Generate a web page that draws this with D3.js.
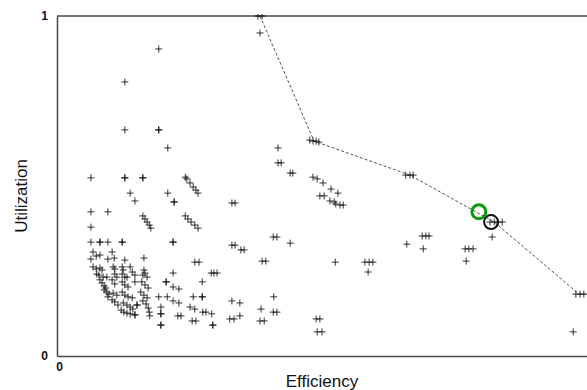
<!DOCTYPE html>
<html>
<head>
<meta charset="utf-8">
<script src="https://cdn.jsdelivr.net/npm/d3@7"></script>
<style>
  html, body { margin: 0; padding: 0; background: #fff; }
  svg { display: block; }
  text { font-family: "Liberation Sans", Arial, sans-serif; }
</style>
</head>
<body>
<svg id="chart" width="587" height="390"></svg>
<script>
// ---- data ----
const xTicks = [0];
const yTicks = [0, 1];
const xTitle = "Efficiency";
const yTitle = "Utilization";

// Pareto-front configurations (efficiency, utilization)
const frontPoints = [
  [0.379,1.0],[0.387,1.0],
  [0.477,0.635],[0.483,0.632],[0.489,0.632],[0.494,0.629],
  [0.658,0.532],[0.666,0.532],[0.672,0.532],
  [0.817,0.394],[0.825,0.394],[0.832,0.394],[0.840,0.394],
  [0.979,0.182],[0.987,0.182],[0.994,0.182]
];
// dashed front line vertices
const frontLine = [
  [0.383,1.0],[0.485,0.632],[0.666,0.532],[0.825,0.394],[0.985,0.182],[1.0,0.182]
];
// all other configurations
const otherPoints = [
  [0.383,0.950],
  [0.192,0.903],[0.128,0.806],[0.128,0.665],[0.192,0.665],[0.192,0.665],[0.209,0.612],[0.417,0.612],
  [0.064,0.524],[0.128,0.524],[0.128,0.524],[0.162,0.524],[0.162,0.524],
  [0.242,0.526],[0.245,0.521],[0.251,0.509],[0.257,0.497],[0.262,0.488],[0.266,0.479],
  [0.138,0.479],[0.147,0.456],[0.209,0.479],[0.221,0.453],[0.221,0.453],
  [0.330,0.450],[0.336,0.450],
  [0.064,0.424],[0.096,0.424],
  [0.162,0.412],[0.166,0.403],[0.170,0.394],[0.174,0.385],[0.177,0.376],
  [0.242,0.412],[0.247,0.403],[0.253,0.394],[0.260,0.385],[0.266,0.376],
  [0.064,0.379],
  [0.064,0.335],[0.081,0.335],[0.081,0.335],[0.096,0.335],[0.123,0.335],[0.123,0.335],[0.219,0.335],[0.219,0.335],
  [0.330,0.326],[0.336,0.326],[0.347,0.312],[0.353,0.312],
  [0.417,0.568],[0.423,0.568],[0.440,0.538],[0.445,0.538],
  [0.483,0.526],[0.491,0.521],[0.502,0.509],[0.517,0.491],[0.530,0.479],
  [0.496,0.471],[0.504,0.471],[0.515,0.456],[0.523,0.453],[0.526,0.447],[0.534,0.444],[0.540,0.444],
  [0.408,0.350],[0.415,0.350],[0.440,0.332],
  [0.387,0.279],[0.394,0.279],
  [0.525,0.276],[0.581,0.276],[0.589,0.276],[0.596,0.276],[0.587,0.247],
  [0.660,0.329],[0.689,0.353],[0.696,0.353],[0.702,0.353],[0.691,0.315],
  [0.770,0.315],[0.777,0.315],[0.785,0.315],[0.772,0.279],[0.821,0.350],
  [0.974,0.071],
  [0.330,0.162],[0.345,0.156],[0.409,0.174],[0.385,0.138],[0.408,0.129],[0.415,0.129],
  [0.326,0.109],[0.334,0.109],[0.345,0.118],[0.383,0.103],[0.391,0.103],
  [0.489,0.109],[0.496,0.109],[0.491,0.071],[0.500,0.071],
  [0.196,0.091],[0.196,0.091],[0.228,0.118],[0.234,0.118],[0.255,0.103],[0.262,0.103],[0.294,0.091],[0.294,0.091],
  [0.275,0.129],[0.281,0.129],[0.292,0.124],[0.251,0.144],[0.260,0.138],
  [0.219,0.162],[0.230,0.156],[0.192,0.174],[0.208,0.174],[0.257,0.174],[0.274,0.174],[0.274,0.174],
  [0.206,0.218],[0.206,0.218],[0.274,0.218],[0.219,0.203],[0.230,0.197],
  [0.164,0.288],[0.166,0.244],[0.219,0.244],[0.291,0.244],[0.296,0.244],[0.302,0.244],
  [0.260,0.276],[0.268,0.276],
  [0.196,0.144],[0.196,0.124],[0.196,0.124],
  [0.068,0.306],[0.104,0.306],
  [0.064,0.285],[0.074,0.294],[0.081,0.297],[0.096,0.285],[0.108,0.288],[0.128,0.282],
  [0.068,0.262],[0.074,0.256],[0.081,0.259],[0.085,0.253],[0.106,0.262],[0.109,0.256],[0.123,0.262],[0.125,0.253],[0.138,0.262],[0.164,0.253],
  [0.075,0.241],[0.079,0.238],[0.087,0.232],[0.094,0.232],[0.109,0.241],[0.113,0.232],[0.123,0.241],[0.128,0.232],[0.132,0.232],[0.142,0.247],[0.147,0.238],[0.162,0.238],[0.170,0.232],
  [0.081,0.224],[0.085,0.215],[0.089,0.206],[0.092,0.200],[0.104,0.224],[0.109,0.212],[0.123,0.218],[0.128,0.209],[0.134,0.203],[0.147,0.218],[0.160,0.218],[0.166,0.209],[0.172,0.200],
  [0.089,0.194],[0.094,0.188],[0.098,0.182],[0.106,0.185],[0.113,0.179],[0.123,0.188],[0.128,0.179],[0.134,0.174],[0.142,0.171],[0.158,0.188],[0.164,0.179],[0.170,0.171],
  [0.096,0.174],[0.104,0.165],[0.109,0.159],[0.115,0.150],[0.125,0.156],[0.132,0.150],[0.138,0.144],[0.143,0.138],[0.151,0.150],[0.151,0.150],[0.162,0.162],[0.168,0.153],[0.172,0.141],
  [0.121,0.135],[0.126,0.129],[0.132,0.126],[0.138,0.124],[0.147,0.121],[0.147,0.121],[0.174,0.129],[0.175,0.118]
];
// highlighted configurations
const highlightGreen = [[0.796, 0.424]];
const highlightBlack = [[0.819, 0.394]];

// ---- layout ----
const svg = d3.select("#chart");
const plot = { left: 57, right: 587, top: 16, bottom: 356 };
const x = d3.scaleLinear().domain([0, 1]).range([plot.left, plot.right]);
const y = d3.scaleLinear().domain([0, 1]).range([plot.bottom, plot.top]);

svg.append("defs").append("clipPath").attr("id", "clip")
  .append("rect").attr("x", plot.left).attr("y", plot.top - 2)
  .attr("width", plot.right - plot.left + 5).attr("height", plot.bottom - plot.top + 4);

// frame: top line
svg.append("line")
  .attr("x1", x(0)).attr("x2", x(1)).attr("y1", y(1)).attr("y2", y(1))
  .attr("stroke", "#444").attr("stroke-width", 1.5);

// axes
const yAxis = svg.append("g").attr("transform", `translate(${plot.left},0)`)
  .call(d3.axisLeft(y).tickValues(yTicks).tickSize(0).tickPadding(9).tickFormat(d3.format("d")));
const xAxis = svg.append("g").attr("transform", `translate(0,${plot.bottom})`)
  .call(d3.axisBottom(x).tickValues(xTicks).tickSize(0).tickPadding(6).tickFormat(d3.format("d")));
[yAxis, xAxis].forEach(g => {
  g.select(".domain").attr("stroke", "#444").attr("stroke-width", 1.5);
  g.selectAll("text").attr("font-size", 12).attr("font-weight", "bold")
    .attr("fill", "#111").attr("font-family", "Liberation Sans, Arial, sans-serif");
});
xAxis.selectAll("text").attr("dx", 2);

// titles
svg.append("text").attr("x", 322).attr("y", 387).attr("text-anchor", "middle")
  .attr("font-size", 17).attr("fill", "#111").text(xTitle);
svg.append("text").attr("transform", `translate(27,${(plot.top + plot.bottom) / 2 + 10}) rotate(-90)`)
  .attr("text-anchor", "middle").attr("font-size", 17).attr("fill", "#111").text(yTitle);

const g = svg.append("g").attr("clip-path", "url(#clip)");

// dashed front
g.append("path").datum(frontLine)
  .attr("d", d3.line().x(d => x(d[0])).y(d => y(d[1])))
  .attr("fill", "none").attr("stroke", "#555").attr("stroke-width", 1)
  .attr("stroke-dasharray", "3,2");

// plus markers
const plus = "M-3.5,0H3.5M0,-3.5V3.5";
g.selectAll("path.pt").data(otherPoints.concat(frontPoints)).join("path")
  .attr("class", "pt")
  .attr("transform", d => `translate(${x(d[0])},${y(d[1])})`)
  .attr("d", plus).attr("stroke", "#111").attr("stroke-opacity", 0.85)
  .attr("stroke-width", 1).attr("fill", "none");

// highlight circles
g.selectAll("circle.green").data(highlightGreen).join("circle")
  .attr("class", "green").attr("cx", d => x(d[0])).attr("cy", d => y(d[1])).attr("r", 7)
  .attr("fill", "none").attr("stroke", "#0a9a0a").attr("stroke-width", 3);
g.selectAll("circle.black").data(highlightBlack).join("circle")
  .attr("class", "black").attr("cx", d => x(d[0])).attr("cy", d => y(d[1])).attr("r", 7)
  .attr("fill", "none").attr("stroke", "#111").attr("stroke-width", 2);
</script>
</body>
</html>
